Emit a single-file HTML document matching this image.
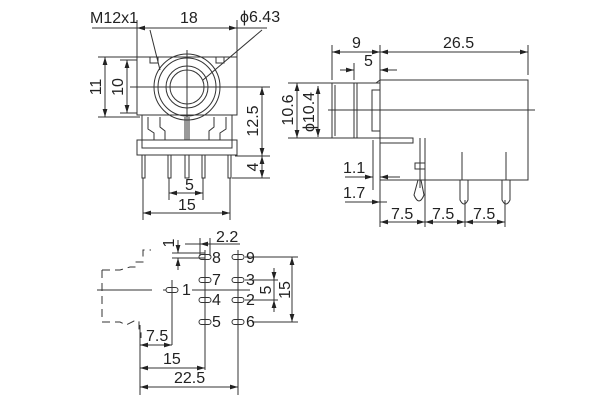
<!DOCTYPE html>
<html><head><style>body{margin:0;background:#fff}svg{display:block}text{font-family:"Liberation Sans",sans-serif;font-size:16px;fill:#222}</style></head><body>
<svg width="600" height="400" viewBox="0 0 600 400" xmlns="http://www.w3.org/2000/svg">
<defs><marker id="a" viewBox="0 0 10 6" refX="10" refY="3" markerWidth="8" markerHeight="5" orient="auto-start-reverse"><path d="M0,0L10,3L0,6z" fill="#222"/></marker></defs>
<g stroke="#333" stroke-width="1" fill="none">
<rect x="137" y="57" width="100" height="58"/>
<rect x="142" y="115" width="90" height="33"/>
<rect x="137" y="140" width="100" height="15"/>
<path d="M150 57v6h8v-6M216 57v6h8v-6"/>
<circle cx="187" cy="87" r="33"/><circle cx="187" cy="87" r="29"/><circle cx="187" cy="87" r="21"/><circle cx="187" cy="87" r="17"/>
<path d="M130 87H240M187 50V140"/>
<path d="M148 117v12l6 4v7M160 117v10l5 4v9M214 117v10l-5 4v9M226 117v12l-6 4v7M185 117v23M189 117v23"/>
<path d="M142 155v23h3v-23M168 155v23h3v-23M185 155v23h4v-23M202 155v23h3v-23M228 155v23h3v-23"/>
<path d="M137 57V20M237 57V20M92 28h45M237 28h30"/>
<path d="M137 28H237" marker-start="url(#a)" marker-end="url(#a)"/>
<path d="M150 30L160 70M262 30L203 80"/>
<path d="M98 57h39M98 117h42M120 60h17M120 113h17"/>
<path d="M105 57V117" marker-start="url(#a)" marker-end="url(#a)"/>
<path d="M127 60V113" marker-start="url(#a)" marker-end="url(#a)"/>
<path d="M240 87h30M235 156h35M232 178h38"/>
<path d="M262 87V156" marker-start="url(#a)" marker-end="url(#a)"/>
<path d="M262 156V178" marker-start="url(#a)" marker-end="url(#a)"/>
<path d="M169 178v22M203 178v22M143 178v42M230 178v42"/>
<path d="M169 193H203" marker-start="url(#a)" marker-end="url(#a)"/>
<path d="M143 213H230" marker-start="url(#a)" marker-end="url(#a)"/>
<rect x="380" y="80" width="148" height="100"/>
<path d="M380 80l-4 3"/>
<rect x="332" y="83" width="48" height="55"/>
<path d="M335 85v51M354 83v55M357 83v55"/>
<rect x="372" y="90" width="8" height="41"/>
<path d="M380 138h33v5h-33M420 138v50M425 138v62M415 163h10v6h-10z"/>
<path d="M418 180l-4 15q5 12 10 0l-3-15M460 180v20q4 8 8 0v-20M502 180v20q4 8 8 0v-20"/>
<path d="M462 152v28M506 152v28"/>
<path d="M328 110H535"/>
<path d="M332 80V45M380 80V45M528 75V45M354 80V63"/>
<path d="M332 52H380" marker-start="url(#a)" marker-end="url(#a)"/>
<path d="M380 52H528" marker-start="url(#a)" marker-end="url(#a)"/>
<path d="M340 70h14M380 70h17"/>
<path d="M345 70H354" marker-end="url(#a)"/><path d="M397 70H380" marker-end="url(#a)"/>
<path d="M288 83h44M288 138h44"/>
<path d="M297 83V138" marker-start="url(#a)" marker-end="url(#a)"/>
<path d="M318 86V137" marker-start="url(#a)" marker-end="url(#a)"/>
<path d="M373 140v50M380 142v85M425 200v27M465 200v27M505 200v27"/>
<path d="M345 177h28M380 177h20"/>
<path d="M362 177H373" marker-end="url(#a)"/><path d="M392 177H380" marker-end="url(#a)"/>
<path d="M345 202h42"/>
<path d="M365 202H380" marker-end="url(#a)"/>
<path d="M380 222H425" marker-start="url(#a)" marker-end="url(#a)"/>
<path d="M425 222H465" marker-start="url(#a)" marker-end="url(#a)"/>
<path d="M465 222H505" marker-start="url(#a)" marker-end="url(#a)"/>
<g stroke-dasharray="8,5">
<path d="M102 270v52h18l6 3 8-4h5v10h2v7M102 270h18l10-3h5v-5h8v-12h8"/>
</g>
<path d="M97 290h55M163 290h3M192 290h58"/>
<g>
<rect x="166" y="287.5" width="12" height="5" rx="2.5"/>
<rect x="199" y="254.5" width="12" height="5" rx="2.5"/>
<rect x="199" y="277.5" width="12" height="5" rx="2.5"/>
<rect x="199" y="297.5" width="12" height="5" rx="2.5"/>
<rect x="199" y="319.5" width="12" height="5" rx="2.5"/>
<rect x="232" y="254.5" width="12" height="5" rx="2.5"/>
<rect x="232" y="277.5" width="12" height="5" rx="2.5"/>
<rect x="232" y="297.5" width="12" height="5" rx="2.5"/>
<rect x="232" y="319.5" width="12" height="5" rx="2.5"/>
</g>
<path d="M172 280V345M205 250V370M238 250V395M140 325V395"/>
<path d="M245 257h53M245 280h33M245 300h33M252 322h46"/>
<path d="M292 257V322" marker-start="url(#a)" marker-end="url(#a)"/>
<path d="M274 268V280" marker-end="url(#a)"/><path d="M274 312V300" marker-end="url(#a)"/><path d="M274 280v20"/>
<path d="M140 345H172" marker-start="url(#a)" marker-end="url(#a)"/>
<path d="M140 368H205" marker-start="url(#a)" marker-end="url(#a)"/>
<path d="M140 387H238" marker-start="url(#a)" marker-end="url(#a)"/>
<path d="M200 238v18M210 238v18M185 244h15M210 244h30"/>
<path d="M210 244H200" marker-end="url(#a)"/>
<path d="M172 253h33M172 258h33"/>
<path d="M178 240V253" marker-end="url(#a)"/><path d="M178 270V258" marker-end="url(#a)"/>
</g>
<text x="90" y="23">M12x1</text>
<text x="180" y="23">18</text>
<text x="240" y="22">ϕ6.43</text>
<text transform="translate(101,87) rotate(-90)" text-anchor="middle">11</text>
<text transform="translate(123,87) rotate(-90)" text-anchor="middle">10</text>
<text transform="translate(258,121) rotate(-90)" text-anchor="middle">12.5</text>
<text transform="translate(258,167) rotate(-90)" text-anchor="middle">4</text>
<text x="185" y="190">5</text>
<text x="178" y="210">15</text>
<text x="352" y="48">9</text>
<text x="443" y="48">26.5</text>
<text x="364" y="66">5</text>
<text transform="translate(293,110) rotate(-90)" text-anchor="middle">10.6</text>
<text transform="translate(314,112) rotate(-90)" text-anchor="middle">ϕ10.4</text>
<text x="343" y="173">1.1</text>
<text x="343" y="198">1.7</text>
<text x="391" y="219">7.5</text>
<text x="432" y="219">7.5</text>
<text x="473" y="219">7.5</text>
<text x="216" y="242">2.2</text>
<text transform="translate(174,243) rotate(-90)" text-anchor="middle">1</text>
<text x="212" y="263">8</text><text x="212" y="285">7</text><text x="212" y="305">4</text><text x="212" y="327">5</text>
<text x="246" y="263">9</text><text x="246" y="285">3</text><text x="246" y="305">2</text><text x="246" y="327">6</text>
<text x="182" y="295">1</text>
<text transform="translate(271,290) rotate(-90)" text-anchor="middle">5</text>
<text transform="translate(290,290) rotate(-90)" text-anchor="middle">15</text>
<text x="146" y="341">7.5</text>
<text x="163" y="364">15</text>
<text x="174" y="383">22.5</text>
</svg>
</body></html>
